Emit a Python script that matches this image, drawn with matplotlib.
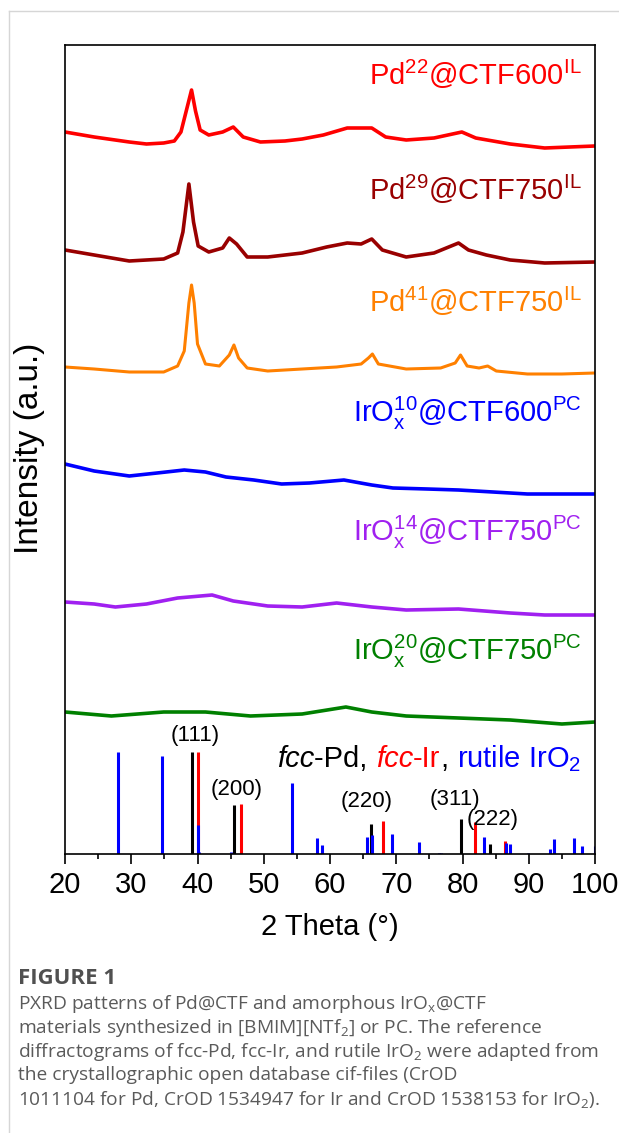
import matplotlib
matplotlib.use('Agg')
import matplotlib.pyplot as plt
from matplotlib.lines import Line2D

plt.rcParams['font.family'] = ['Liberation Sans', 'DejaVu Sans']

# --- measured patterns (2 theta in degrees, intensity in a.u. incl. stacking offset) ---
pd22_x = [20, 24.4, 29.7, 32.3, 34.9, 36.5, 37.5, 38.3, 39.1, 39.7, 40.4, 41.7, 43.8, 45.4, 46.9,
          49.5, 53.2, 55.8, 59.0, 62.6, 66.3, 68.4, 71.5, 75.7, 79.9, 82.0, 87.2, 92.4, 100]
pd22_y = [722, 717, 712, 710, 711, 713, 722, 743, 764, 743, 724, 719, 722, 727, 717,
          712, 713, 715, 719, 726, 726, 717, 714, 716, 722, 716, 710, 706, 708]

pd29_x = [20, 24.4, 29.7, 34.9, 37.0, 37.8, 38.7, 39.4, 40.1, 41.7, 43.8, 44.8, 45.9, 47.5, 50.6,
          55.8, 59.5, 62.6, 64.7, 66.3, 67.9, 71.5, 75.7, 79.4, 80.9, 83.6, 87.2, 92.4, 100]
pd29_y = [604, 599, 593, 595, 601, 622, 670, 632, 608, 602, 606, 616, 610, 597, 597,
          601, 607, 611, 610, 615, 604, 597, 601, 611, 604, 599, 594, 591, 592]

pd41_x = [20, 24.4, 29.7, 34.9, 37.0, 38.0, 38.7, 39.1, 39.5, 40.0, 41.2, 43.3, 44.8, 45.5, 46.2,
          47.5, 50.6, 55.8, 61.0, 64.7, 65.8, 66.4, 67.3, 71.5, 76.7, 78.9, 79.7, 80.7, 82.5,
          83.8, 85.1, 89.8, 95.0, 100]
pd41_y = [487, 485, 482, 482, 488, 503, 551, 569, 551, 510, 490, 488, 499, 509, 496,
          486, 483, 485, 487, 490, 496, 500, 490, 485, 486, 491, 499, 488, 486,
          488, 483, 480, 480, 481]

irox10_x = [20, 24.4, 29.7, 33.9, 38.0, 41.2, 44.3, 48.5, 52.7, 56.9, 62.1, 66.3, 69.5, 74.7,
            79.4, 84.6, 89.8, 95, 100]
irox10_y = [390, 383, 378, 381, 384, 382, 377, 374, 370, 371, 374, 369, 366, 365,
            364, 362, 360, 360, 360]

irox14_x = [20, 24.4, 27.6, 32.3, 37.0, 42.2, 45.4, 50.6, 55.8, 61.0, 66.3, 71.5, 79.4, 87.2, 92.4, 100]
irox14_y = [252, 250, 247, 250, 256, 259, 253, 248, 247, 251, 247, 244, 245, 241, 239, 239]

irox20_x = [20, 27, 34.9, 41.2, 48, 55.8, 62.4, 66.3, 71.5, 79.4, 87.2, 95, 100]
irox20_y = [142, 138, 142, 142, 138, 140, 147, 142, 138, 136, 134, 130, 132]

# --- reference reflections ---
pd_pos = [39.1, 45.5, 66.2, 79.7, 84.1]
pd_int = [102, 49, 30, 35, 10]
ir_pos = [40.0, 46.5, 68.0, 81.9, 86.4]
ir_int = [102, 50, 33, 32, 13]
iro2_pos = [28.0, 34.7, 40.1, 40.3, 45.1, 54.2, 58.0, 58.8, 65.6, 66.3, 69.4, 73.4, 76.4, 76.8,
            83.3, 86.6, 87.2, 89.9, 93.2, 93.8, 96.9, 98.1, 100]
iro2_int = [102, 98, 29, 2, 2, 71, 16, 9, 17, 19, 20, 12, 1, 1,
            17, 11, 10, 1, 5, 15, 16, 8, 8]

hkl = ['(111)', '(200)', '(220)', '(311)', '(222)']
hkl_x = [39.6, 45.9, 65.6, 78.9, 84.5]
hkl_y = [118, 65, 53, 54, 35]

series = [
    (pd22_x, pd22_y, '#ff0000', r'Pd$\mathregular{^{22}}$@CTF600$\mathregular{^{IL}}$', 769, 2.6),
    (pd29_x, pd29_y, '#990000', r'Pd$\mathregular{^{29}}$@CTF750$\mathregular{^{IL}}$', 654, 2.6),
    (pd41_x, pd41_y, '#ff8000', r'Pd$\mathregular{^{41}}$@CTF750$\mathregular{^{IL}}$', 542, 2.2),
    (irox10_x, irox10_y, '#0000ff', r'IrO$\mathregular{_x^{10}}$@CTF600$\mathregular{^{PC}}$', 432, 2.6),
    (irox14_x, irox14_y, '#a020f0', r'IrO$\mathregular{_x^{14}}$@CTF750$\mathregular{^{PC}}$', 313, 2.6),
    (irox20_x, irox20_y, '#008000', r'IrO$\mathregular{_x^{20}}$@CTF750$\mathregular{^{PC}}$', 194, 2.6),
]

W, H = 619, 1133
fig = plt.figure(figsize=(W / 100, H / 100), dpi=100)
ax = fig.add_axes([65 / W, 1 - 854 / H, 530 / W, 809 / H])
ax.set_xlim(20, 100)
ax.set_ylim(0, 809)

for xs, ys, c, lab, ly, lw in series:
    ax.plot(xs, ys, color=c, lw=lw)
    ax.text(98.0, ly, lab, color=c, fontsize=21, ha='right', va='baseline')

ax.vlines(pd_pos, 0, pd_int, color='black', lw=2.2)
ax.vlines(ir_pos, 0, ir_int, color='#ff0000', lw=2.2)
ax.vlines(iro2_pos, 0, iro2_int, color='#0000ff', lw=2.2)

for t, x, y in zip(hkl, hkl_x, hkl_y):
    ax.text(x, y, t, fontsize=16, ha='center', va='center')

ax.set_xticks(range(20, 101, 10))
ax.set_xticks(range(25, 100, 10), minor=True)
ax.set_yticks([])
ax.tick_params(axis='x', which='major', direction='out', length=7, width=1.2, labelsize=21, pad=5)
ax.tick_params(axis='x', which='minor', direction='out', length=3.5, width=1.2)
for sp in ax.spines.values():
    sp.set_linewidth(1.2)
ax.set_xlabel('2 Theta (°)', fontsize=21, labelpad=10)
fig.text(30 / W, 1 - 448 / H, 'Intensity (a.u.)', rotation=90, fontsize=24, ha='center', va='center')

# legend-like coloured caption inside the axes, pieces laid out one after another
pieces = [('fcc', 'black', 'italic'), ('-Pd, ', 'black', 'normal'),
          ('fcc', '#ff0000', 'italic'), ('-Ir', '#ff0000', 'normal'),
          (', ', 'black', 'normal'), (r'rutile IrO$\mathregular{_2}$', '#0000ff', 'normal')]
fig.canvas.draw()
renderer = fig.canvas.get_renderer()
to_px = ax.transData
xpos_px = to_px.transform((52.0, 87))[0]
for s, c, st in pieces:
    t = ax.text(0, 0, s, color=c, style=st, fontsize=21, ha='left', va='baseline')
    x_data = to_px.inverted().transform((xpos_px, 0))[0]
    t.set_position((x_data, 87))
    w, _, _ = renderer.get_text_width_height_descent(
        s.replace(r'$\mathregular{_2}$', '2') if '$' in s else s, t.get_fontproperties(), ismath=False)
    xpos_px += w

# page frame
fig.add_artist(Line2D([9 / W, 9 / W], [0, 1 - 11 / H], color='#d6d6d6', lw=1))
fig.add_artist(Line2D([9 / W, 1], [1 - 11 / H, 1 - 11 / H], color='#d6d6d6', lw=1))

# caption
cap_font = ['Open Sans', 'DejaVu Sans']
fig.text(18 / W, 1 - 978 / H, 'FIGURE 1', fontsize=16, fontweight='bold', color='#505050',
         family=cap_font, va='center')
cap_lines = [
    r'PXRD patterns of Pd@CTF and amorphous IrO$\mathregular{_x}$@CTF',
    r'materials synthesized in [BMIM][NTf$\mathregular{_2}$] or PC. The reference',
    r'diffractograms of fcc-Pd, fcc-Ir, and rutile IrO$\mathregular{_2}$ were adapted from',
    'the crystallographic open database cif-files (CrOD',
    r'1011104 for Pd, CrOD 1534947 for Ir and CrOD 1538153 for IrO$\mathregular{_2}$).',
]
for i, line in enumerate(cap_lines):
    fig.text(18 / W, 1 - (1004 + 23.8 * i) / H, line, fontsize=13.8, color='#5a5a5a',
             family=cap_font, va='center')

fig.savefig('out.png', dpi=100)
